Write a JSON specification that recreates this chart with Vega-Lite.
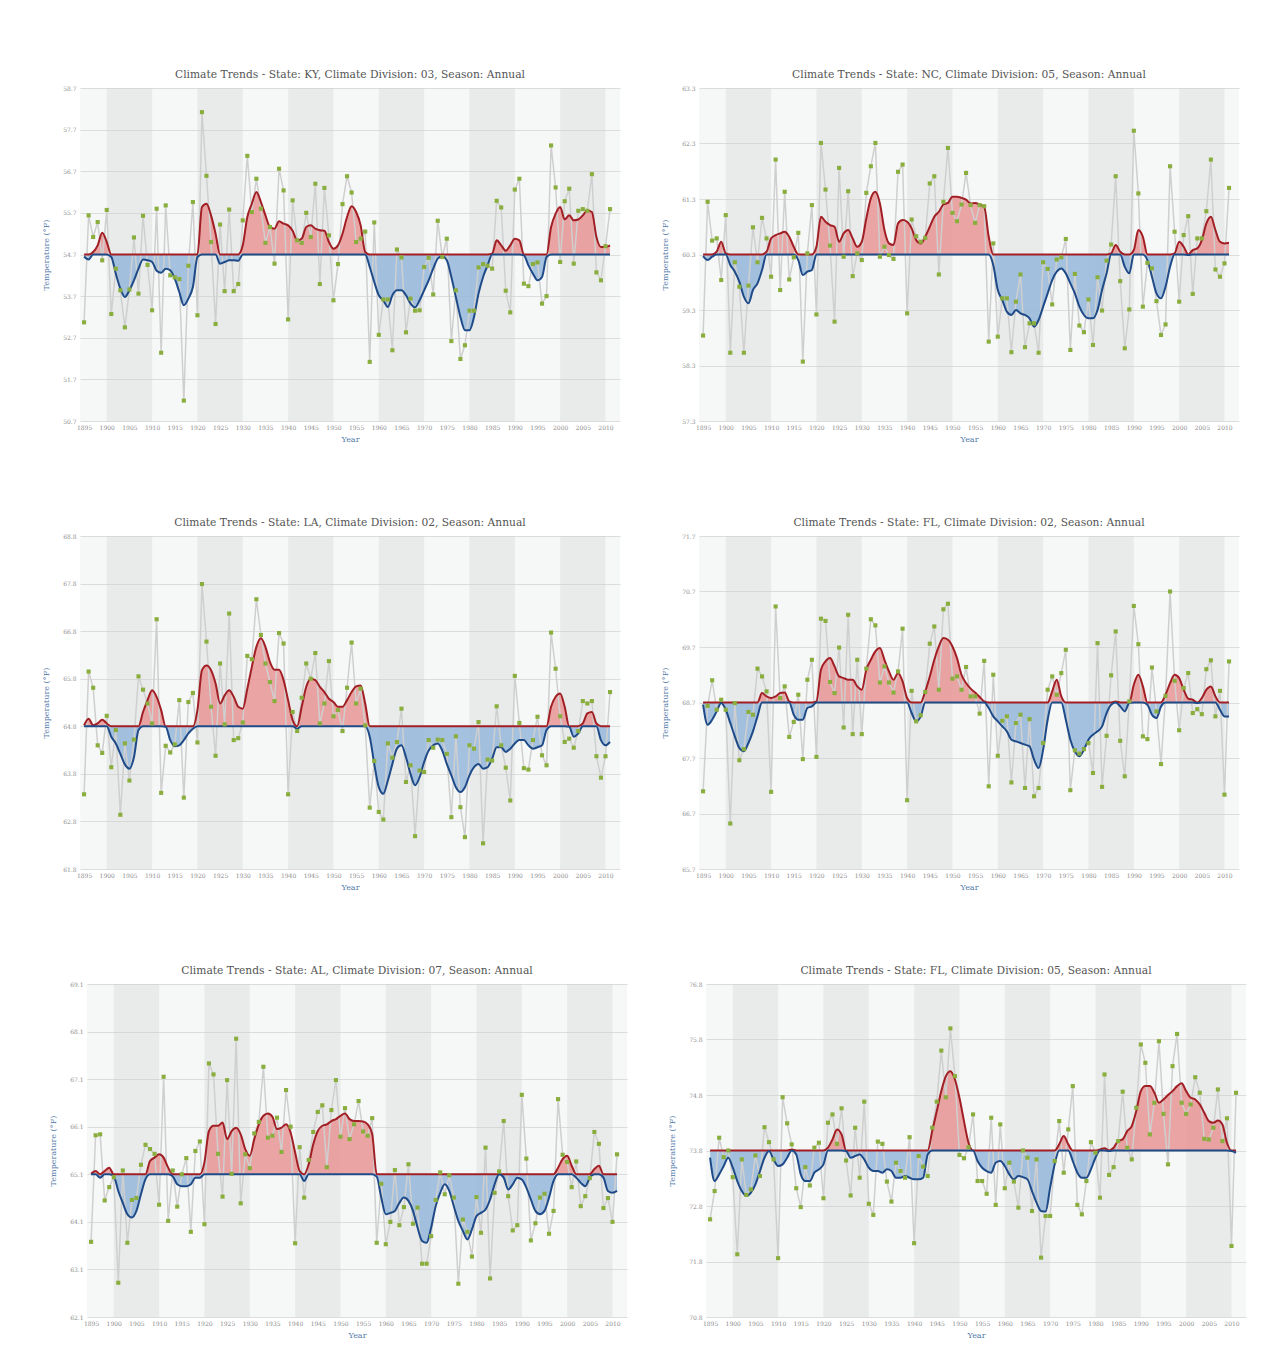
{
  "$schema": "https://vega.github.io/schema/vega-lite/v6.json",
  "background": "white",
  "padding": {"left": 0, "top": 69, "right": 5, "bottom": 5},
  "config": {
    "view": {"stroke": null, "fill": "#f6f7f7"},
    "axis": {"labelFont": "DejaVu Serif", "labelFontSize": 6, "labelColor": "#8c8c8c", "titleFont": "DejaVu Serif", "titleFontSize": 8, "titleFontWeight": "normal", "titleColor": "#5078a8", "domain": false, "ticks": false, "gridColor": "#dcdcdc", "gridWidth": 1},
    "axisX": {"grid": false, "labelPadding": 3, "titlePadding": 5, "labelOverlap": false, "labelFlush": false},
    "axisY": {"labelPadding": 4, "titlePadding": 4, "minExtent": 26, "maxExtent": 26},
    "title": {"font": "DejaVu Serif", "fontSize": 10.7, "fontWeight": "normal", "color": "#555555", "offset": 4, "anchor": "middle"}
  },
  "datasets": {
    "bands": [{"year": 1900, "end": 1910}, {"year": 1920, "end": 1930}, {"year": 1940, "end": 1950}, {"year": 1960, "end": 1970}, {"year": 1980, "end": 1990}, {"year": 2000, "end": 2010}],
    "ky": [
      {"year":1895,"temp":53.07,"smooth":54.65},{"year":1896,"temp":55.64,"smooth":54.58},{"year":1897,"temp":55.12,"smooth":54.76},{"year":1898,"temp":55.48,"smooth":54.92},{"year":1899,"temp":54.56,"smooth":55.22},{"year":1900,"temp":55.77,"smooth":55.0},{"year":1901,"temp":53.27,"smooth":54.64},{"year":1902,"temp":54.36,"smooth":54.24},{"year":1903,"temp":53.84,"smooth":53.88},{"year":1904,"temp":52.95,"smooth":53.68},{"year":1905,"temp":53.86,"smooth":53.84},{"year":1906,"temp":55.11,"smooth":54.08},{"year":1907,"temp":53.76,"smooth":54.36},{"year":1908,"temp":55.63,"smooth":54.58},{"year":1909,"temp":54.45,"smooth":54.56},{"year":1910,"temp":53.36,"smooth":54.52},{"year":1911,"temp":55.8,"smooth":54.31},{"year":1912,"temp":52.34,"smooth":54.26},{"year":1913,"temp":55.88,"smooth":54.36},{"year":1914,"temp":54.2,"smooth":54.32},{"year":1915,"temp":54.15,"smooth":54.12},{"year":1916,"temp":54.11,"smooth":53.8},{"year":1917,"temp":51.19,"smooth":53.48},{"year":1918,"temp":54.43,"smooth":53.64},{"year":1919,"temp":55.96,"smooth":53.92},{"year":1920,"temp":53.24,"smooth":54.64},{"year":1921,"temp":58.12,"smooth":55.84},{"year":1922,"temp":56.59,"smooth":55.92},{"year":1923,"temp":55.0,"smooth":55.64},{"year":1924,"temp":53.03,"smooth":55.2},{"year":1925,"temp":55.42,"smooth":54.48},{"year":1926,"temp":53.82,"smooth":54.52},{"year":1927,"temp":55.78,"smooth":54.56},{"year":1928,"temp":53.82,"smooth":54.56},{"year":1929,"temp":53.99,"smooth":54.55},{"year":1930,"temp":55.52,"smooth":54.92},{"year":1931,"temp":57.07,"smooth":55.6},{"year":1932,"temp":55.72,"smooth":55.92},{"year":1933,"temp":56.52,"smooth":56.2},{"year":1934,"temp":55.8,"smooth":55.96},{"year":1935,"temp":54.98,"smooth":55.64},{"year":1936,"temp":55.36,"smooth":55.36},{"year":1937,"temp":54.48,"smooth":55.32},{"year":1938,"temp":56.76,"smooth":55.5},{"year":1939,"temp":56.24,"smooth":55.44},{"year":1940,"temp":53.14,"smooth":55.4},{"year":1941,"temp":56.0,"smooth":55.27},{"year":1942,"temp":55.04,"smooth":55.04},{"year":1943,"temp":54.98,"smooth":55.08},{"year":1944,"temp":55.7,"smooth":55.36},{"year":1945,"temp":55.12,"smooth":55.4},{"year":1946,"temp":56.4,"smooth":55.32},{"year":1947,"temp":53.99,"smooth":55.28},{"year":1948,"temp":56.3,"smooth":55.27},{"year":1949,"temp":55.16,"smooth":55.0},{"year":1950,"temp":53.6,"smooth":54.84},{"year":1951,"temp":54.47,"smooth":54.92},{"year":1952,"temp":55.91,"smooth":55.2},{"year":1953,"temp":56.58,"smooth":55.6},{"year":1954,"temp":56.19,"smooth":55.86},{"year":1955,"temp":55.0,"smooth":55.72},{"year":1956,"temp":55.08,"smooth":55.4},{"year":1957,"temp":55.25,"smooth":54.76},{"year":1958,"temp":52.12,"smooth":54.4},{"year":1959,"temp":55.47,"smooth":54.04},{"year":1960,"temp":52.77,"smooth":53.72},{"year":1961,"temp":53.62,"smooth":53.6},{"year":1962,"temp":53.62,"smooth":53.44},{"year":1963,"temp":52.4,"smooth":53.72},{"year":1964,"temp":54.82,"smooth":53.84},{"year":1965,"temp":54.63,"smooth":53.84},{"year":1966,"temp":52.83,"smooth":53.72},{"year":1967,"temp":53.64,"smooth":53.52},{"year":1968,"temp":53.35,"smooth":53.43},{"year":1969,"temp":53.36,"smooth":53.6},{"year":1970,"temp":54.4,"smooth":53.84},{"year":1971,"temp":54.62,"smooth":54.08},{"year":1972,"temp":53.74,"smooth":54.36},{"year":1973,"temp":55.51,"smooth":54.6},{"year":1974,"temp":54.64,"smooth":54.66},{"year":1975,"temp":55.08,"smooth":54.56},{"year":1976,"temp":52.62,"smooth":54.16},{"year":1977,"temp":53.84,"smooth":53.68},{"year":1978,"temp":52.19,"smooth":53.2},{"year":1979,"temp":52.52,"smooth":52.88},{"year":1980,"temp":53.35,"smooth":52.88},{"year":1981,"temp":53.35,"smooth":53.2},{"year":1982,"temp":54.39,"smooth":53.76},{"year":1983,"temp":54.47,"smooth":54.16},{"year":1984,"temp":54.43,"smooth":54.44},{"year":1985,"temp":54.36,"smooth":54.72},{"year":1986,"temp":55.99,"smooth":55.04},{"year":1987,"temp":55.83,"smooth":54.92},{"year":1988,"temp":53.83,"smooth":54.79},{"year":1989,"temp":53.31,"smooth":54.92},{"year":1990,"temp":56.26,"smooth":55.08},{"year":1991,"temp":56.52,"smooth":55.04},{"year":1992,"temp":54.0,"smooth":54.68},{"year":1993,"temp":53.94,"smooth":54.44},{"year":1994,"temp":54.47,"smooth":54.24},{"year":1995,"temp":54.51,"smooth":54.08},{"year":1996,"temp":53.52,"smooth":54.16},{"year":1997,"temp":53.7,"smooth":54.64},{"year":1998,"temp":57.32,"smooth":55.36},{"year":1999,"temp":56.31,"smooth":55.68},{"year":2000,"temp":54.52,"smooth":55.84},{"year":2001,"temp":55.98,"smooth":55.54},{"year":2002,"temp":56.28,"smooth":55.64},{"year":2003,"temp":54.48,"smooth":55.52},{"year":2004,"temp":55.75,"smooth":55.54},{"year":2005,"temp":55.79,"smooth":55.64},{"year":2006,"temp":55.75,"smooth":55.76},{"year":2007,"temp":56.63,"smooth":55.72},{"year":2008,"temp":54.27,"smooth":55.12},{"year":2009,"temp":54.08,"smooth":54.88},{"year":2010,"temp":54.9,"smooth":54.88},{"year":2011,"temp":55.79,"smooth":54.92}
    ],
    "nc": [
      {"year":1895,"temp":58.84,"smooth":60.27},{"year":1896,"temp":61.25,"smooth":60.2},{"year":1897,"temp":60.55,"smooth":60.26},{"year":1898,"temp":60.59,"smooth":60.35},{"year":1899,"temp":59.84,"smooth":60.53},{"year":1900,"temp":61.01,"smooth":60.32},{"year":1901,"temp":58.53,"smooth":60.11},{"year":1902,"temp":60.16,"smooth":59.99},{"year":1903,"temp":59.72,"smooth":59.81},{"year":1904,"temp":58.53,"smooth":59.54},{"year":1905,"temp":59.74,"smooth":59.42},{"year":1906,"temp":60.79,"smooth":59.66},{"year":1907,"temp":60.16,"smooth":59.78},{"year":1908,"temp":60.96,"smooth":60.02},{"year":1909,"temp":60.59,"smooth":60.35},{"year":1910,"temp":59.9,"smooth":60.59},{"year":1911,"temp":62.01,"smooth":60.65},{"year":1912,"temp":59.66,"smooth":60.68},{"year":1913,"temp":61.43,"smooth":60.71},{"year":1914,"temp":59.85,"smooth":60.62},{"year":1915,"temp":60.25,"smooth":60.44},{"year":1916,"temp":60.69,"smooth":60.2},{"year":1917,"temp":58.37,"smooth":59.93},{"year":1918,"temp":60.32,"smooth":59.99},{"year":1919,"temp":61.19,"smooth":60.02},{"year":1920,"temp":59.22,"smooth":60.44},{"year":1921,"temp":62.31,"smooth":60.98},{"year":1922,"temp":61.47,"smooth":60.89},{"year":1923,"temp":60.46,"smooth":60.83},{"year":1924,"temp":59.09,"smooth":60.8},{"year":1925,"temp":61.86,"smooth":60.53},{"year":1926,"temp":60.26,"smooth":60.68},{"year":1927,"temp":61.44,"smooth":60.74},{"year":1928,"temp":59.91,"smooth":60.59},{"year":1929,"temp":60.32,"smooth":60.44},{"year":1930,"temp":60.2,"smooth":60.53},{"year":1931,"temp":61.41,"smooth":60.95},{"year":1932,"temp":61.89,"smooth":61.31},{"year":1933,"temp":62.31,"smooth":61.43},{"year":1934,"temp":60.26,"smooth":61.22},{"year":1935,"temp":60.44,"smooth":60.74},{"year":1936,"temp":60.29,"smooth":60.5},{"year":1937,"temp":60.22,"smooth":60.47},{"year":1938,"temp":61.79,"smooth":60.86},{"year":1939,"temp":61.92,"smooth":60.92},{"year":1940,"temp":59.24,"smooth":60.89},{"year":1941,"temp":60.93,"smooth":60.77},{"year":1942,"temp":60.63,"smooth":60.56},{"year":1943,"temp":60.53,"smooth":60.5},{"year":1944,"temp":60.6,"smooth":60.62},{"year":1945,"temp":61.58,"smooth":60.8},{"year":1946,"temp":61.71,"smooth":60.98},{"year":1947,"temp":59.94,"smooth":61.07},{"year":1948,"temp":61.25,"smooth":61.2},{"year":1949,"temp":62.22,"smooth":61.23},{"year":1950,"temp":61.05,"smooth":61.34},{"year":1951,"temp":60.9,"smooth":61.34},{"year":1952,"temp":61.2,"smooth":61.32},{"year":1953,"temp":61.77,"smooth":61.29},{"year":1954,"temp":61.19,"smooth":61.22},{"year":1955,"temp":60.87,"smooth":61.23},{"year":1956,"temp":61.19,"smooth":61.2},{"year":1957,"temp":61.17,"smooth":61.16},{"year":1958,"temp":58.73,"smooth":60.62},{"year":1959,"temp":60.5,"smooth":60.11},{"year":1960,"temp":58.82,"smooth":59.66},{"year":1961,"temp":59.51,"smooth":59.48},{"year":1962,"temp":59.51,"smooth":59.27},{"year":1963,"temp":58.54,"smooth":59.21},{"year":1964,"temp":59.45,"smooth":59.3},{"year":1965,"temp":59.94,"smooth":59.24},{"year":1966,"temp":58.63,"smooth":59.21},{"year":1967,"temp":59.06,"smooth":59.15},{"year":1968,"temp":59.06,"smooth":59.0},{"year":1969,"temp":58.53,"smooth":59.12},{"year":1970,"temp":60.16,"smooth":59.36},{"year":1971,"temp":60.04,"smooth":59.6},{"year":1972,"temp":59.4,"smooth":59.84},{"year":1973,"temp":60.21,"smooth":59.99},{"year":1974,"temp":60.25,"smooth":60.05},{"year":1975,"temp":60.58,"smooth":59.96},{"year":1976,"temp":58.58,"smooth":59.78},{"year":1977,"temp":59.95,"smooth":59.6},{"year":1978,"temp":59.02,"smooth":59.36},{"year":1979,"temp":58.9,"smooth":59.21},{"year":1980,"temp":59.49,"smooth":59.15},{"year":1981,"temp":58.67,"smooth":59.15},{"year":1982,"temp":59.89,"smooth":59.3},{"year":1983,"temp":59.29,"smooth":59.66},{"year":1984,"temp":60.19,"smooth":59.96},{"year":1985,"temp":60.48,"smooth":60.32},{"year":1986,"temp":61.71,"smooth":60.47},{"year":1987,"temp":59.82,"smooth":60.35},{"year":1988,"temp":58.61,"smooth":60.08},{"year":1989,"temp":59.31,"smooth":59.96},{"year":1990,"temp":62.53,"smooth":60.38},{"year":1991,"temp":61.4,"smooth":60.74},{"year":1992,"temp":59.36,"smooth":60.62},{"year":1993,"temp":60.15,"smooth":60.2},{"year":1994,"temp":60.05,"smooth":59.9},{"year":1995,"temp":59.46,"smooth":59.6},{"year":1996,"temp":58.85,"smooth":59.51},{"year":1997,"temp":59.04,"smooth":59.72},{"year":1998,"temp":61.89,"smooth":60.08},{"year":1999,"temp":60.71,"smooth":60.32},{"year":2000,"temp":59.45,"smooth":60.53},{"year":2001,"temp":60.65,"smooth":60.44},{"year":2002,"temp":60.99,"smooth":60.29},{"year":2003,"temp":59.59,"smooth":60.38},{"year":2004,"temp":60.59,"smooth":60.41},{"year":2005,"temp":60.59,"smooth":60.56},{"year":2006,"temp":61.08,"smooth":60.86},{"year":2007,"temp":62.01,"smooth":60.98},{"year":2008,"temp":60.03,"smooth":60.74},{"year":2009,"temp":59.9,"smooth":60.53},{"year":2010,"temp":60.14,"smooth":60.5},{"year":2011,"temp":61.5,"smooth":60.51}
    ],
    "la": [
      {"year":1895,"temp":63.37,"smooth":64.82},{"year":1896,"temp":65.95,"smooth":64.96},{"year":1897,"temp":65.61,"smooth":64.82},{"year":1898,"temp":64.4,"smooth":64.86},{"year":1899,"temp":64.24,"smooth":64.94},{"year":1900,"temp":65.02,"smooth":64.86},{"year":1901,"temp":63.94,"smooth":64.58},{"year":1902,"temp":64.72,"smooth":64.44},{"year":1903,"temp":62.94,"smooth":64.22},{"year":1904,"temp":64.44,"smooth":64.0},{"year":1905,"temp":63.66,"smooth":63.91},{"year":1906,"temp":64.52,"smooth":64.15},{"year":1907,"temp":65.85,"smooth":64.72},{"year":1908,"temp":65.57,"smooth":65.1},{"year":1909,"temp":65.28,"smooth":65.35},{"year":1910,"temp":64.86,"smooth":65.56},{"year":1911,"temp":67.05,"smooth":65.42},{"year":1912,"temp":63.4,"smooth":65.14},{"year":1913,"temp":64.39,"smooth":64.79},{"year":1914,"temp":64.25,"smooth":64.51},{"year":1915,"temp":64.42,"smooth":64.38},{"year":1916,"temp":65.35,"smooth":64.4},{"year":1917,"temp":63.3,"smooth":64.51},{"year":1918,"temp":65.31,"smooth":64.65},{"year":1919,"temp":65.5,"smooth":64.75},{"year":1920,"temp":64.46,"smooth":65.14},{"year":1921,"temp":67.79,"smooth":65.98},{"year":1922,"temp":66.58,"smooth":66.08},{"year":1923,"temp":65.21,"smooth":65.98},{"year":1924,"temp":64.18,"smooth":65.7},{"year":1925,"temp":66.12,"smooth":65.28},{"year":1926,"temp":64.84,"smooth":65.45},{"year":1927,"temp":67.17,"smooth":65.56},{"year":1928,"temp":64.51,"smooth":65.42},{"year":1929,"temp":64.55,"smooth":65.21},{"year":1930,"temp":64.88,"smooth":65.17},{"year":1931,"temp":66.28,"smooth":65.59},{"year":1932,"temp":66.21,"smooth":66.05},{"year":1933,"temp":67.47,"smooth":66.47},{"year":1934,"temp":66.72,"smooth":66.65},{"year":1935,"temp":66.12,"smooth":66.47},{"year":1936,"temp":65.73,"smooth":66.15},{"year":1937,"temp":65.33,"smooth":65.99},{"year":1938,"temp":66.76,"smooth":65.99},{"year":1939,"temp":66.54,"smooth":65.77},{"year":1940,"temp":63.37,"smooth":65.35},{"year":1941,"temp":65.1,"smooth":64.93},{"year":1942,"temp":64.7,"smooth":64.75},{"year":1943,"temp":65.4,"smooth":65.21},{"year":1944,"temp":66.12,"smooth":65.63},{"year":1945,"temp":65.8,"smooth":65.8},{"year":1946,"temp":66.34,"smooth":65.77},{"year":1947,"temp":64.86,"smooth":65.63},{"year":1948,"temp":65.28,"smooth":65.52},{"year":1949,"temp":66.17,"smooth":65.38},{"year":1950,"temp":65.01,"smooth":65.31},{"year":1951,"temp":65.14,"smooth":65.21},{"year":1952,"temp":64.7,"smooth":65.21},{"year":1953,"temp":65.61,"smooth":65.35},{"year":1954,"temp":66.56,"smooth":65.52},{"year":1955,"temp":65.28,"smooth":65.64},{"year":1956,"temp":65.59,"smooth":65.66},{"year":1957,"temp":64.82,"smooth":65.28},{"year":1958,"temp":63.09,"smooth":64.58},{"year":1959,"temp":64.07,"smooth":64.01},{"year":1960,"temp":63.0,"smooth":63.52},{"year":1961,"temp":62.84,"smooth":63.38},{"year":1962,"temp":64.44,"smooth":63.66},{"year":1963,"temp":64.14,"smooth":64.01},{"year":1964,"temp":64.47,"smooth":64.33},{"year":1965,"temp":65.17,"smooth":64.4},{"year":1966,"temp":63.63,"smooth":64.15},{"year":1967,"temp":63.98,"smooth":63.8},{"year":1968,"temp":62.49,"smooth":63.56},{"year":1969,"temp":63.87,"smooth":63.73},{"year":1970,"temp":63.84,"smooth":64.05},{"year":1971,"temp":64.51,"smooth":64.29},{"year":1972,"temp":64.35,"smooth":64.4},{"year":1973,"temp":64.52,"smooth":64.44},{"year":1974,"temp":64.51,"smooth":64.29},{"year":1975,"temp":64.22,"smooth":64.01},{"year":1976,"temp":62.89,"smooth":63.77},{"year":1977,"temp":64.59,"smooth":63.52},{"year":1978,"temp":63.1,"smooth":63.42},{"year":1979,"temp":62.47,"smooth":63.52},{"year":1980,"temp":64.4,"smooth":63.77},{"year":1981,"temp":64.33,"smooth":63.94},{"year":1982,"temp":64.89,"smooth":64.01},{"year":1983,"temp":62.34,"smooth":63.91},{"year":1984,"temp":64.1,"smooth":63.94},{"year":1985,"temp":64.08,"smooth":64.12},{"year":1986,"temp":65.22,"smooth":64.36},{"year":1987,"temp":64.4,"smooth":64.36},{"year":1988,"temp":63.93,"smooth":64.26},{"year":1989,"temp":63.24,"smooth":64.33},{"year":1990,"temp":65.86,"smooth":64.44},{"year":1991,"temp":64.87,"smooth":64.51},{"year":1992,"temp":63.92,"smooth":64.51},{"year":1993,"temp":63.89,"smooth":64.4},{"year":1994,"temp":64.51,"smooth":64.33},{"year":1995,"temp":65.0,"smooth":64.36},{"year":1996,"temp":64.19,"smooth":64.4},{"year":1997,"temp":63.98,"smooth":64.72},{"year":1998,"temp":66.77,"smooth":65.21},{"year":1999,"temp":66.01,"smooth":65.42},{"year":2000,"temp":65.01,"smooth":65.49},{"year":2001,"temp":64.47,"smooth":65.21},{"year":2002,"temp":64.54,"smooth":64.79},{"year":2003,"temp":64.35,"smooth":64.58},{"year":2004,"temp":64.7,"smooth":64.65},{"year":2005,"temp":65.33,"smooth":64.86},{"year":2006,"temp":65.28,"smooth":65.07},{"year":2007,"temp":65.33,"smooth":65.1},{"year":2008,"temp":64.17,"smooth":64.86},{"year":2009,"temp":63.72,"smooth":64.51},{"year":2010,"temp":64.17,"smooth":64.4},{"year":2011,"temp":65.52,"smooth":64.47}
    ],
    "fl2": [
      {"year":1895,"temp":67.1,"smooth":68.66},{"year":1896,"temp":68.64,"smooth":68.3},{"year":1897,"temp":69.1,"smooth":68.39},{"year":1898,"temp":68.57,"smooth":68.54},{"year":1899,"temp":68.75,"smooth":68.69},{"year":1900,"temp":68.57,"smooth":68.57},{"year":1901,"temp":66.52,"smooth":68.33},{"year":1902,"temp":68.69,"smooth":68.09},{"year":1903,"temp":67.66,"smooth":67.88},{"year":1904,"temp":67.86,"smooth":67.82},{"year":1905,"temp":68.53,"smooth":67.97},{"year":1906,"temp":68.48,"smooth":68.18},{"year":1907,"temp":69.31,"smooth":68.45},{"year":1908,"temp":69.17,"smooth":68.87},{"year":1909,"temp":68.9,"smooth":68.81},{"year":1910,"temp":67.09,"smooth":68.78},{"year":1911,"temp":70.43,"smooth":68.81},{"year":1912,"temp":68.78,"smooth":68.87},{"year":1913,"temp":68.99,"smooth":68.88},{"year":1914,"temp":68.08,"smooth":68.72},{"year":1915,"temp":68.35,"smooth":68.48},{"year":1916,"temp":68.84,"smooth":68.39},{"year":1917,"temp":67.68,"smooth":68.39},{"year":1918,"temp":69.11,"smooth":68.6},{"year":1919,"temp":69.47,"smooth":68.63},{"year":1920,"temp":67.72,"smooth":68.72},{"year":1921,"temp":70.21,"smooth":69.29},{"year":1922,"temp":70.17,"smooth":69.44},{"year":1923,"temp":69.07,"smooth":69.5},{"year":1924,"temp":68.87,"smooth":69.35},{"year":1925,"temp":69.69,"smooth":69.17},{"year":1926,"temp":68.25,"smooth":69.14},{"year":1927,"temp":70.28,"smooth":69.11},{"year":1928,"temp":68.13,"smooth":69.11},{"year":1929,"temp":69.47,"smooth":68.99},{"year":1930,"temp":68.13,"smooth":68.93},{"year":1931,"temp":69.31,"smooth":69.29},{"year":1932,"temp":70.2,"smooth":69.47},{"year":1933,"temp":70.09,"smooth":69.62},{"year":1934,"temp":69.06,"smooth":69.68},{"year":1935,"temp":69.35,"smooth":69.47},{"year":1936,"temp":69.06,"smooth":69.26},{"year":1937,"temp":68.88,"smooth":69.11},{"year":1938,"temp":69.26,"smooth":69.23},{"year":1939,"temp":70.03,"smooth":69.08},{"year":1940,"temp":66.94,"smooth":68.78},{"year":1941,"temp":68.91,"smooth":68.51},{"year":1942,"temp":68.36,"smooth":68.36},{"year":1943,"temp":68.47,"smooth":68.45},{"year":1944,"temp":68.89,"smooth":68.9},{"year":1945,"temp":69.76,"smooth":69.17},{"year":1946,"temp":70.07,"smooth":69.47},{"year":1947,"temp":68.93,"smooth":69.71},{"year":1948,"temp":70.38,"smooth":69.86},{"year":1949,"temp":70.48,"smooth":69.83},{"year":1950,"temp":69.13,"smooth":69.71},{"year":1951,"temp":69.17,"smooth":69.5},{"year":1952,"temp":68.93,"smooth":69.2},{"year":1953,"temp":69.34,"smooth":69.05},{"year":1954,"temp":68.81,"smooth":68.95},{"year":1955,"temp":68.81,"smooth":68.88},{"year":1956,"temp":68.5,"smooth":68.8},{"year":1957,"temp":69.45,"smooth":68.72},{"year":1958,"temp":67.19,"smooth":68.6},{"year":1959,"temp":69.2,"smooth":68.45},{"year":1960,"temp":67.74,"smooth":68.36},{"year":1961,"temp":68.37,"smooth":68.27},{"year":1962,"temp":68.45,"smooth":68.18},{"year":1963,"temp":67.26,"smooth":68.03},{"year":1964,"temp":68.33,"smooth":68.0},{"year":1965,"temp":68.48,"smooth":67.97},{"year":1966,"temp":67.16,"smooth":67.94},{"year":1967,"temp":68.4,"smooth":67.91},{"year":1968,"temp":67.01,"smooth":67.67},{"year":1969,"temp":67.16,"smooth":67.52},{"year":1970,"temp":67.97,"smooth":67.85},{"year":1971,"temp":68.93,"smooth":68.39},{"year":1972,"temp":69.17,"smooth":68.9},{"year":1973,"temp":68.84,"smooth":69.11},{"year":1974,"temp":69.23,"smooth":68.81},{"year":1975,"temp":69.65,"smooth":68.39},{"year":1976,"temp":67.12,"smooth":68.03},{"year":1977,"temp":67.84,"smooth":67.82},{"year":1978,"temp":67.78,"smooth":67.73},{"year":1979,"temp":67.86,"smooth":67.85},{"year":1980,"temp":67.97,"smooth":68.03},{"year":1981,"temp":67.43,"smooth":68.12},{"year":1982,"temp":69.77,"smooth":68.18},{"year":1983,"temp":67.18,"smooth":68.27},{"year":1984,"temp":68.1,"smooth":68.51},{"year":1985,"temp":69.19,"smooth":68.66},{"year":1986,"temp":69.98,"smooth":68.72},{"year":1987,"temp":68.01,"smooth":68.63},{"year":1988,"temp":67.37,"smooth":68.54},{"year":1989,"temp":68.72,"smooth":68.69},{"year":1990,"temp":70.44,"smooth":69.02},{"year":1991,"temp":69.75,"smooth":69.2},{"year":1992,"temp":68.09,"smooth":68.99},{"year":1993,"temp":68.04,"smooth":68.66},{"year":1994,"temp":69.33,"smooth":68.48},{"year":1995,"temp":68.54,"smooth":68.42},{"year":1996,"temp":67.59,"smooth":68.63},{"year":1997,"temp":68.82,"smooth":68.84},{"year":1998,"temp":70.7,"smooth":69.05},{"year":1999,"temp":69.09,"smooth":69.2},{"year":2000,"temp":68.2,"smooth":69.14},{"year":2001,"temp":68.96,"smooth":68.93},{"year":2002,"temp":69.23,"smooth":68.77},{"year":2003,"temp":68.51,"smooth":68.75},{"year":2004,"temp":68.58,"smooth":68.69},{"year":2005,"temp":68.49,"smooth":68.78},{"year":2006,"temp":69.3,"smooth":68.93},{"year":2007,"temp":69.46,"smooth":68.99},{"year":2008,"temp":68.45,"smooth":68.81},{"year":2009,"temp":68.91,"smooth":68.57},{"year":2010,"temp":67.04,"smooth":68.45},{"year":2011,"temp":69.44,"smooth":68.45}
    ],
    "al": [
      {"year":1895,"temp":63.68,"smooth":65.11},{"year":1896,"temp":65.92,"smooth":65.17},{"year":1897,"temp":65.94,"smooth":65.03},{"year":1898,"temp":64.55,"smooth":65.17},{"year":1899,"temp":64.83,"smooth":65.24},{"year":1900,"temp":65.04,"smooth":65.06},{"year":1901,"temp":62.82,"smooth":64.75},{"year":1902,"temp":65.18,"smooth":64.5},{"year":1903,"temp":63.66,"smooth":64.26},{"year":1904,"temp":64.56,"smooth":64.19},{"year":1905,"temp":64.6,"smooth":64.33},{"year":1906,"temp":65.3,"smooth":64.68},{"year":1907,"temp":65.72,"smooth":65.0},{"year":1908,"temp":65.63,"smooth":65.38},{"year":1909,"temp":65.53,"smooth":65.45},{"year":1910,"temp":64.46,"smooth":65.52},{"year":1911,"temp":67.15,"smooth":65.45},{"year":1912,"temp":64.12,"smooth":65.24},{"year":1913,"temp":65.18,"smooth":65.06},{"year":1914,"temp":64.42,"smooth":64.89},{"year":1915,"temp":65.1,"smooth":64.85},{"year":1916,"temp":65.44,"smooth":64.85},{"year":1917,"temp":63.89,"smooth":64.89},{"year":1918,"temp":65.59,"smooth":65.03},{"year":1919,"temp":65.79,"smooth":65.03},{"year":1920,"temp":64.05,"smooth":65.35},{"year":1921,"temp":67.43,"smooth":66.01},{"year":1922,"temp":67.2,"smooth":66.12},{"year":1923,"temp":65.53,"smooth":66.12},{"year":1924,"temp":64.63,"smooth":66.19},{"year":1925,"temp":67.08,"smooth":65.84},{"year":1926,"temp":65.11,"smooth":66.01},{"year":1927,"temp":67.95,"smooth":66.08},{"year":1928,"temp":64.49,"smooth":65.94},{"year":1929,"temp":65.52,"smooth":65.63},{"year":1930,"temp":65.23,"smooth":65.49},{"year":1931,"temp":65.96,"smooth":65.84},{"year":1932,"temp":66.2,"smooth":66.15},{"year":1933,"temp":67.36,"smooth":66.33},{"year":1934,"temp":65.87,"smooth":66.38},{"year":1935,"temp":65.91,"smooth":66.31},{"year":1936,"temp":66.29,"smooth":66.05},{"year":1937,"temp":65.57,"smooth":66.08},{"year":1938,"temp":66.87,"smooth":66.15},{"year":1939,"temp":66.1,"smooth":65.98},{"year":1940,"temp":63.65,"smooth":65.56},{"year":1941,"temp":65.67,"smooth":65.17},{"year":1942,"temp":64.61,"smooth":64.96},{"year":1943,"temp":65.4,"smooth":65.31},{"year":1944,"temp":65.99,"smooth":65.73},{"year":1945,"temp":66.41,"smooth":66.01},{"year":1946,"temp":66.55,"smooth":66.12},{"year":1947,"temp":65.25,"smooth":66.15},{"year":1948,"temp":66.45,"smooth":66.22},{"year":1949,"temp":67.08,"smooth":66.26},{"year":1950,"temp":65.89,"smooth":66.33},{"year":1951,"temp":66.49,"smooth":66.38},{"year":1952,"temp":65.84,"smooth":66.26},{"year":1953,"temp":66.15,"smooth":66.22},{"year":1954,"temp":66.64,"smooth":66.22},{"year":1955,"temp":66.0,"smooth":66.21},{"year":1956,"temp":65.91,"smooth":66.15},{"year":1957,"temp":66.28,"smooth":65.95},{"year":1958,"temp":63.66,"smooth":65.05},{"year":1959,"temp":64.9,"smooth":64.61},{"year":1960,"temp":63.63,"smooth":64.26},{"year":1961,"temp":64.1,"smooth":64.29},{"year":1962,"temp":65.19,"smooth":64.33},{"year":1963,"temp":64.03,"smooth":64.5},{"year":1964,"temp":64.41,"smooth":64.61},{"year":1965,"temp":65.31,"smooth":64.54},{"year":1966,"temp":64.06,"smooth":64.33},{"year":1967,"temp":64.4,"smooth":63.98},{"year":1968,"temp":63.22,"smooth":63.7},{"year":1969,"temp":63.22,"smooth":63.66},{"year":1970,"temp":63.8,"smooth":63.98},{"year":1971,"temp":64.56,"smooth":64.43},{"year":1972,"temp":65.14,"smooth":64.71},{"year":1973,"temp":64.68,"smooth":64.89},{"year":1974,"temp":65.08,"smooth":64.75},{"year":1975,"temp":64.61,"smooth":64.43},{"year":1976,"temp":62.8,"smooth":64.12},{"year":1977,"temp":64.15,"smooth":63.91},{"year":1978,"temp":63.89,"smooth":63.73},{"year":1979,"temp":63.37,"smooth":63.94},{"year":1980,"temp":64.62,"smooth":64.22},{"year":1981,"temp":63.87,"smooth":64.29},{"year":1982,"temp":65.66,"smooth":64.36},{"year":1983,"temp":62.91,"smooth":64.57},{"year":1984,"temp":64.71,"smooth":64.89},{"year":1985,"temp":65.16,"smooth":65.1},{"year":1986,"temp":66.22,"smooth":65.03},{"year":1987,"temp":64.64,"smooth":64.78},{"year":1988,"temp":63.92,"smooth":64.89},{"year":1989,"temp":64.03,"smooth":65.03},{"year":1990,"temp":66.77,"smooth":64.99},{"year":1991,"temp":65.43,"smooth":64.82},{"year":1992,"temp":63.71,"smooth":64.57},{"year":1993,"temp":64.07,"smooth":64.33},{"year":1994,"temp":64.61,"smooth":64.26},{"year":1995,"temp":64.69,"smooth":64.33},{"year":1996,"temp":63.85,"smooth":64.61},{"year":1997,"temp":64.33,"smooth":64.96},{"year":1998,"temp":66.68,"smooth":65.24},{"year":1999,"temp":65.51,"smooth":65.42},{"year":2000,"temp":65.36,"smooth":65.49},{"year":2001,"temp":64.83,"smooth":65.28},{"year":2002,"temp":65.37,"smooth":65.03},{"year":2003,"temp":64.43,"smooth":64.92},{"year":2004,"temp":64.64,"smooth":64.85},{"year":2005,"temp":65.02,"smooth":65.03},{"year":2006,"temp":65.99,"smooth":65.21},{"year":2007,"temp":65.74,"smooth":65.28},{"year":2008,"temp":64.39,"smooth":65.03},{"year":2009,"temp":64.6,"smooth":64.75},{"year":2010,"temp":64.1,"smooth":64.71},{"year":2011,"temp":65.52,"smooth":64.75}
    ],
    "fl5": [
      {"year":1895,"temp":72.56,"smooth":73.67},{"year":1896,"temp":73.07,"smooth":73.25},{"year":1897,"temp":74.03,"smooth":73.37},{"year":1898,"temp":73.68,"smooth":73.52},{"year":1899,"temp":73.8,"smooth":73.67},{"year":1900,"temp":73.32,"smooth":73.49},{"year":1901,"temp":71.93,"smooth":73.25},{"year":1902,"temp":73.64,"smooth":73.07},{"year":1903,"temp":73.0,"smooth":72.98},{"year":1904,"temp":73.1,"smooth":73.04},{"year":1905,"temp":73.71,"smooth":73.19},{"year":1906,"temp":73.34,"smooth":73.43},{"year":1907,"temp":74.22,"smooth":73.67},{"year":1908,"temp":73.95,"smooth":73.79},{"year":1909,"temp":73.64,"smooth":73.64},{"year":1910,"temp":71.86,"smooth":73.52},{"year":1911,"temp":74.76,"smooth":73.55},{"year":1912,"temp":74.29,"smooth":73.67},{"year":1913,"temp":73.91,"smooth":73.82},{"year":1914,"temp":73.12,"smooth":73.73},{"year":1915,"temp":72.78,"smooth":73.37},{"year":1916,"temp":73.5,"smooth":73.25},{"year":1917,"temp":73.17,"smooth":73.25},{"year":1918,"temp":73.85,"smooth":73.4},{"year":1919,"temp":73.94,"smooth":73.46},{"year":1920,"temp":72.94,"smooth":73.55},{"year":1921,"temp":74.3,"smooth":73.85},{"year":1922,"temp":74.45,"smooth":74.0},{"year":1923,"temp":73.92,"smooth":74.18},{"year":1924,"temp":74.56,"smooth":74.09},{"year":1925,"temp":73.62,"smooth":73.79},{"year":1926,"temp":72.99,"smooth":73.67},{"year":1927,"temp":74.21,"smooth":73.7},{"year":1928,"temp":73.31,"smooth":73.73},{"year":1929,"temp":74.68,"smooth":73.64},{"year":1930,"temp":72.84,"smooth":73.49},{"year":1931,"temp":72.64,"smooth":73.43},{"year":1932,"temp":73.96,"smooth":73.43},{"year":1933,"temp":73.92,"smooth":73.4},{"year":1934,"temp":73.24,"smooth":73.46},{"year":1935,"temp":72.88,"smooth":73.43},{"year":1936,"temp":73.58,"smooth":73.31},{"year":1937,"temp":73.43,"smooth":73.31},{"year":1938,"temp":73.31,"smooth":73.34},{"year":1939,"temp":74.04,"smooth":73.31},{"year":1940,"temp":72.13,"smooth":73.28},{"year":1941,"temp":73.7,"smooth":73.28},{"year":1942,"temp":73.51,"smooth":73.31},{"year":1943,"temp":73.34,"smooth":73.73},{"year":1944,"temp":74.21,"smooth":74.15},{"year":1945,"temp":74.68,"smooth":74.51},{"year":1946,"temp":75.6,"smooth":74.87},{"year":1947,"temp":74.76,"smooth":75.14},{"year":1948,"temp":76.0,"smooth":75.23},{"year":1949,"temp":75.14,"smooth":75.08},{"year":1950,"temp":73.72,"smooth":74.75},{"year":1951,"temp":73.66,"smooth":74.33},{"year":1952,"temp":73.86,"smooth":73.94},{"year":1953,"temp":74.45,"smooth":73.8},{"year":1954,"temp":73.25,"smooth":73.61},{"year":1955,"temp":73.25,"smooth":73.49},{"year":1956,"temp":73.02,"smooth":73.43},{"year":1957,"temp":74.39,"smooth":73.4},{"year":1958,"temp":72.82,"smooth":73.58},{"year":1959,"temp":74.27,"smooth":73.61},{"year":1960,"temp":73.12,"smooth":73.52},{"year":1961,"temp":73.58,"smooth":73.37},{"year":1962,"temp":73.24,"smooth":73.28},{"year":1963,"temp":72.77,"smooth":73.34},{"year":1964,"temp":73.8,"smooth":73.32},{"year":1965,"temp":73.67,"smooth":73.28},{"year":1966,"temp":72.71,"smooth":73.07},{"year":1967,"temp":73.64,"smooth":72.86},{"year":1968,"temp":71.87,"smooth":72.71},{"year":1969,"temp":72.62,"smooth":72.7},{"year":1970,"temp":72.62,"smooth":73.13},{"year":1971,"temp":73.61,"smooth":73.55},{"year":1972,"temp":74.33,"smooth":73.91},{"year":1973,"temp":73.4,"smooth":74.06},{"year":1974,"temp":74.18,"smooth":73.91},{"year":1975,"temp":74.96,"smooth":73.61},{"year":1976,"temp":72.82,"smooth":73.4},{"year":1977,"temp":72.65,"smooth":73.31},{"year":1978,"temp":73.25,"smooth":73.31},{"year":1979,"temp":73.95,"smooth":73.46},{"year":1980,"temp":73.76,"smooth":73.67},{"year":1981,"temp":72.95,"smooth":73.82},{"year":1982,"temp":75.17,"smooth":73.84},{"year":1983,"temp":73.36,"smooth":73.79},{"year":1984,"temp":73.5,"smooth":73.85},{"year":1985,"temp":73.97,"smooth":73.97},{"year":1986,"temp":74.86,"smooth":74.0},{"year":1987,"temp":73.85,"smooth":74.15},{"year":1988,"temp":73.64,"smooth":74.24},{"year":1989,"temp":74.57,"smooth":74.51},{"year":1990,"temp":75.71,"smooth":74.87},{"year":1991,"temp":75.38,"smooth":74.96},{"year":1992,"temp":74.09,"smooth":74.96},{"year":1993,"temp":74.66,"smooth":74.84},{"year":1994,"temp":75.77,"smooth":74.66},{"year":1995,"temp":74.46,"smooth":74.72},{"year":1996,"temp":73.55,"smooth":74.8},{"year":1997,"temp":75.32,"smooth":74.87},{"year":1998,"temp":75.9,"smooth":74.96},{"year":1999,"temp":74.66,"smooth":75.01},{"year":2000,"temp":74.46,"smooth":74.87},{"year":2001,"temp":74.63,"smooth":74.75},{"year":2002,"temp":75.12,"smooth":74.72},{"year":2003,"temp":74.84,"smooth":74.63},{"year":2004,"temp":74.01,"smooth":74.48},{"year":2005,"temp":74.0,"smooth":74.33},{"year":2006,"temp":74.21,"smooth":74.3},{"year":2007,"temp":74.9,"smooth":74.34},{"year":2008,"temp":73.97,"smooth":74.27},{"year":2009,"temp":74.38,"smooth":73.94},{"year":2010,"temp":72.08,"smooth":73.79},{"year":2011,"temp":74.84,"smooth":73.76}
    ]
  },
  "spacing": 74,
  "vconcat": [
    {
      "spacing": 41,
      "hconcat": [
        {"width": 1, "height": 10, "view": {"fill": null}, "data": {"values": []}, "mark": "point", "encoding": {}},
        {
          "width": 540, "height": 333,
          "title": {"text": "Climate Trends - State: KY, Climate Division: 03, Season: Annual"},
          "data": {"name": "ky"},
          "encoding": {"x": {"field": "year", "type": "quantitative", "scale": {"domain": [1894.1, 2013.2], "nice": false, "zero": false}, "axis": {"title": "Year", "format": "d", "values": [1895,1900,1905,1910,1915,1920,1925,1930,1935,1940,1945,1950,1955,1960,1965,1970,1975,1980,1985,1990,1995,2000,2005,2010]}}},
          "layer": [
            {"data": {"name": "bands"}, "mark": {"type": "rect", "color": "#c9d1d1", "opacity": 0.3, "clip": true}, "encoding": {"x2": {"field": "end"}}},
            {"mark": {"type": "area", "color": "#e89595", "opacity": 0.85, "interpolate": "monotone"}, "encoding": {"y": {"field": "smooth", "type": "quantitative", "scale": {"domain": [54.7, 58.7], "range": [166.5, 0], "clamp": true, "nice": false, "zero": false}, "axis": null}, "y2": {"datum": 54.7}}},
            {"mark": {"type": "area", "color": "#95b8dc", "opacity": 0.85, "interpolate": "monotone"}, "encoding": {"y": {"field": "smooth", "type": "quantitative", "scale": {"domain": [50.7, 54.7], "range": [333, 166.5], "clamp": true, "nice": false, "zero": false}, "axis": null}, "y2": {"datum": 54.7}}},
            {"mark": {"type": "line", "color": "#cfcfcf", "strokeWidth": 1.5}, "encoding": {"y": {"field": "temp", "type": "quantitative", "scale": {"domain": [50.7, 58.7], "nice": false, "zero": false}, "axis": {"title": "Temperature (°F)", "format": ".1f", "grid": true, "values": [50.7,51.7,52.7,53.7,54.7,55.7,56.7,57.7,58.7]}}}},
            {"mark": {"type": "line", "color": "#a11f24", "strokeWidth": 2, "interpolate": "monotone"}, "encoding": {"y": {"field": "smooth", "type": "quantitative", "scale": {"domain": [54.7, 58.7], "range": [166.5, 0], "clamp": true, "nice": false, "zero": false}, "axis": null}}},
            {"mark": {"type": "line", "color": "#1f4a88", "strokeWidth": 2, "interpolate": "monotone"}, "encoding": {"y": {"field": "smooth", "type": "quantitative", "scale": {"domain": [50.7, 54.7], "range": [333, 166.5], "clamp": true, "nice": false, "zero": false}, "axis": null}}},
            {"mark": {"type": "point", "shape": "square", "filled": true, "size": 17, "color": "#8aae3e", "opacity": 1}, "encoding": {"y": {"field": "temp", "type": "quantitative", "scale": {"domain": [50.7, 58.7], "nice": false, "zero": false}, "axis": null}}}
          ],
          "resolve": {"scale": {"y": "independent"}}
        },
        {
          "width": 540, "height": 333,
          "title": {"text": "Climate Trends - State: NC, Climate Division: 05, Season: Annual"},
          "data": {"name": "nc"},
          "encoding": {"x": {"field": "year", "type": "quantitative", "scale": {"domain": [1894.1, 2013.2], "nice": false, "zero": false}, "axis": {"title": "Year", "format": "d", "values": [1895,1900,1905,1910,1915,1920,1925,1930,1935,1940,1945,1950,1955,1960,1965,1970,1975,1980,1985,1990,1995,2000,2005,2010]}}},
          "layer": [
            {"data": {"name": "bands"}, "mark": {"type": "rect", "color": "#c9d1d1", "opacity": 0.3, "clip": true}, "encoding": {"x2": {"field": "end"}}},
            {"mark": {"type": "area", "color": "#e89595", "opacity": 0.85, "interpolate": "monotone"}, "encoding": {"y": {"field": "smooth", "type": "quantitative", "scale": {"domain": [60.3, 63.3], "range": [166.5, 0], "clamp": true, "nice": false, "zero": false}, "axis": null}, "y2": {"datum": 60.3}}},
            {"mark": {"type": "area", "color": "#95b8dc", "opacity": 0.85, "interpolate": "monotone"}, "encoding": {"y": {"field": "smooth", "type": "quantitative", "scale": {"domain": [57.3, 60.3], "range": [333, 166.5], "clamp": true, "nice": false, "zero": false}, "axis": null}, "y2": {"datum": 60.3}}},
            {"mark": {"type": "line", "color": "#cfcfcf", "strokeWidth": 1.5}, "encoding": {"y": {"field": "temp", "type": "quantitative", "scale": {"domain": [57.3, 63.3], "nice": false, "zero": false}, "axis": {"title": "Temperature (°F)", "format": ".1f", "grid": true, "values": [57.3,58.3,59.3,60.3,61.3,62.3,63.3]}}}},
            {"mark": {"type": "line", "color": "#a11f24", "strokeWidth": 2, "interpolate": "monotone"}, "encoding": {"y": {"field": "smooth", "type": "quantitative", "scale": {"domain": [60.3, 63.3], "range": [166.5, 0], "clamp": true, "nice": false, "zero": false}, "axis": null}}},
            {"mark": {"type": "line", "color": "#1f4a88", "strokeWidth": 2, "interpolate": "monotone"}, "encoding": {"y": {"field": "smooth", "type": "quantitative", "scale": {"domain": [57.3, 60.3], "range": [333, 166.5], "clamp": true, "nice": false, "zero": false}, "axis": null}}},
            {"mark": {"type": "point", "shape": "square", "filled": true, "size": 17, "color": "#8aae3e", "opacity": 1}, "encoding": {"y": {"field": "temp", "type": "quantitative", "scale": {"domain": [57.3, 63.3], "nice": false, "zero": false}, "axis": null}}}
          ],
          "resolve": {"scale": {"y": "independent"}}
        }
      ]
    },
    {
      "spacing": 41,
      "hconcat": [
        {"width": 1, "height": 10, "view": {"fill": null}, "data": {"values": []}, "mark": "point", "encoding": {}},
        {
          "width": 540, "height": 333,
          "title": {"text": "Climate Trends - State: LA, Climate Division: 02, Season: Annual"},
          "data": {"name": "la"},
          "encoding": {"x": {"field": "year", "type": "quantitative", "scale": {"domain": [1894.1, 2013.2], "nice": false, "zero": false}, "axis": {"title": "Year", "format": "d", "values": [1895,1900,1905,1910,1915,1920,1925,1930,1935,1940,1945,1950,1955,1960,1965,1970,1975,1980,1985,1990,1995,2000,2005,2010]}}},
          "layer": [
            {"data": {"name": "bands"}, "mark": {"type": "rect", "color": "#c9d1d1", "opacity": 0.3, "clip": true}, "encoding": {"x2": {"field": "end"}}},
            {"mark": {"type": "area", "color": "#e89595", "opacity": 0.85, "interpolate": "monotone"}, "encoding": {"y": {"field": "smooth", "type": "quantitative", "scale": {"domain": [64.8, 68.8], "range": [190.3, 0], "clamp": true, "nice": false, "zero": false}, "axis": null}, "y2": {"datum": 64.8}}},
            {"mark": {"type": "area", "color": "#95b8dc", "opacity": 0.85, "interpolate": "monotone"}, "encoding": {"y": {"field": "smooth", "type": "quantitative", "scale": {"domain": [61.8, 64.8], "range": [333, 190.3], "clamp": true, "nice": false, "zero": false}, "axis": null}, "y2": {"datum": 64.8}}},
            {"mark": {"type": "line", "color": "#cfcfcf", "strokeWidth": 1.5}, "encoding": {"y": {"field": "temp", "type": "quantitative", "scale": {"domain": [61.8, 68.8], "nice": false, "zero": false}, "axis": {"title": "Temperature (°F)", "format": ".1f", "grid": true, "values": [61.8,62.8,63.8,64.8,65.8,66.8,67.8,68.8]}}}},
            {"mark": {"type": "line", "color": "#a11f24", "strokeWidth": 2, "interpolate": "monotone"}, "encoding": {"y": {"field": "smooth", "type": "quantitative", "scale": {"domain": [64.8, 68.8], "range": [190.3, 0], "clamp": true, "nice": false, "zero": false}, "axis": null}}},
            {"mark": {"type": "line", "color": "#1f4a88", "strokeWidth": 2, "interpolate": "monotone"}, "encoding": {"y": {"field": "smooth", "type": "quantitative", "scale": {"domain": [61.8, 64.8], "range": [333, 190.3], "clamp": true, "nice": false, "zero": false}, "axis": null}}},
            {"mark": {"type": "point", "shape": "square", "filled": true, "size": 17, "color": "#8aae3e", "opacity": 1}, "encoding": {"y": {"field": "temp", "type": "quantitative", "scale": {"domain": [61.8, 68.8], "nice": false, "zero": false}, "axis": null}}}
          ],
          "resolve": {"scale": {"y": "independent"}}
        },
        {
          "width": 540, "height": 333,
          "title": {"text": "Climate Trends - State: FL, Climate Division: 02, Season: Annual"},
          "data": {"name": "fl2"},
          "encoding": {"x": {"field": "year", "type": "quantitative", "scale": {"domain": [1894.1, 2013.2], "nice": false, "zero": false}, "axis": {"title": "Year", "format": "d", "values": [1895,1900,1905,1910,1915,1920,1925,1930,1935,1940,1945,1950,1955,1960,1965,1970,1975,1980,1985,1990,1995,2000,2005,2010]}}},
          "layer": [
            {"data": {"name": "bands"}, "mark": {"type": "rect", "color": "#c9d1d1", "opacity": 0.3, "clip": true}, "encoding": {"x2": {"field": "end"}}},
            {"mark": {"type": "area", "color": "#e89595", "opacity": 0.85, "interpolate": "monotone"}, "encoding": {"y": {"field": "smooth", "type": "quantitative", "scale": {"domain": [68.7, 71.7], "range": [166.5, 0], "clamp": true, "nice": false, "zero": false}, "axis": null}, "y2": {"datum": 68.7}}},
            {"mark": {"type": "area", "color": "#95b8dc", "opacity": 0.85, "interpolate": "monotone"}, "encoding": {"y": {"field": "smooth", "type": "quantitative", "scale": {"domain": [65.7, 68.7], "range": [333, 166.5], "clamp": true, "nice": false, "zero": false}, "axis": null}, "y2": {"datum": 68.7}}},
            {"mark": {"type": "line", "color": "#cfcfcf", "strokeWidth": 1.5}, "encoding": {"y": {"field": "temp", "type": "quantitative", "scale": {"domain": [65.7, 71.7], "nice": false, "zero": false}, "axis": {"title": "Temperature (°F)", "format": ".1f", "grid": true, "values": [65.7,66.7,67.7,68.7,69.7,70.7,71.7]}}}},
            {"mark": {"type": "line", "color": "#a11f24", "strokeWidth": 2, "interpolate": "monotone"}, "encoding": {"y": {"field": "smooth", "type": "quantitative", "scale": {"domain": [68.7, 71.7], "range": [166.5, 0], "clamp": true, "nice": false, "zero": false}, "axis": null}}},
            {"mark": {"type": "line", "color": "#1f4a88", "strokeWidth": 2, "interpolate": "monotone"}, "encoding": {"y": {"field": "smooth", "type": "quantitative", "scale": {"domain": [65.7, 68.7], "range": [333, 166.5], "clamp": true, "nice": false, "zero": false}, "axis": null}}},
            {"mark": {"type": "point", "shape": "square", "filled": true, "size": 17, "color": "#8aae3e", "opacity": 1}, "encoding": {"y": {"field": "temp", "type": "quantitative", "scale": {"domain": [65.7, 71.7], "nice": false, "zero": false}, "axis": null}}}
          ],
          "resolve": {"scale": {"y": "independent"}}
        }
      ]
    },
    {
      "spacing": 41,
      "hconcat": [
        {"width": 8, "height": 10, "view": {"fill": null}, "data": {"values": []}, "mark": "point", "encoding": {}},
        {
          "width": 540, "height": 333,
          "title": {"text": "Climate Trends - State: AL, Climate Division: 07, Season: Annual"},
          "data": {"name": "al"},
          "encoding": {"x": {"field": "year", "type": "quantitative", "scale": {"domain": [1894.1, 2013.2], "nice": false, "zero": false}, "axis": {"title": "Year", "format": "d", "values": [1895,1900,1905,1910,1915,1920,1925,1930,1935,1940,1945,1950,1955,1960,1965,1970,1975,1980,1985,1990,1995,2000,2005,2010]}}},
          "layer": [
            {"data": {"name": "bands"}, "mark": {"type": "rect", "color": "#c9d1d1", "opacity": 0.3, "clip": true}, "encoding": {"x2": {"field": "end"}}},
            {"mark": {"type": "area", "color": "#e89595", "opacity": 0.85, "interpolate": "monotone"}, "encoding": {"y": {"field": "smooth", "type": "quantitative", "scale": {"domain": [65.1, 69.1], "range": [190.3, 0], "clamp": true, "nice": false, "zero": false}, "axis": null}, "y2": {"datum": 65.1}}},
            {"mark": {"type": "area", "color": "#95b8dc", "opacity": 0.85, "interpolate": "monotone"}, "encoding": {"y": {"field": "smooth", "type": "quantitative", "scale": {"domain": [62.1, 65.1], "range": [333, 190.3], "clamp": true, "nice": false, "zero": false}, "axis": null}, "y2": {"datum": 65.1}}},
            {"mark": {"type": "line", "color": "#cfcfcf", "strokeWidth": 1.5}, "encoding": {"y": {"field": "temp", "type": "quantitative", "scale": {"domain": [62.1, 69.1], "nice": false, "zero": false}, "axis": {"title": "Temperature (°F)", "format": ".1f", "grid": true, "values": [62.1,63.1,64.1,65.1,66.1,67.1,68.1,69.1]}}}},
            {"mark": {"type": "line", "color": "#a11f24", "strokeWidth": 2, "interpolate": "monotone"}, "encoding": {"y": {"field": "smooth", "type": "quantitative", "scale": {"domain": [65.1, 69.1], "range": [190.3, 0], "clamp": true, "nice": false, "zero": false}, "axis": null}}},
            {"mark": {"type": "line", "color": "#1f4a88", "strokeWidth": 2, "interpolate": "monotone"}, "encoding": {"y": {"field": "smooth", "type": "quantitative", "scale": {"domain": [62.1, 65.1], "range": [333, 190.3], "clamp": true, "nice": false, "zero": false}, "axis": null}}},
            {"mark": {"type": "point", "shape": "square", "filled": true, "size": 17, "color": "#8aae3e", "opacity": 1}, "encoding": {"y": {"field": "temp", "type": "quantitative", "scale": {"domain": [62.1, 69.1], "nice": false, "zero": false}, "axis": null}}}
          ],
          "resolve": {"scale": {"y": "independent"}}
        },
        {
          "width": 540, "height": 333,
          "title": {"text": "Climate Trends - State: FL, Climate Division: 05, Season: Annual"},
          "data": {"name": "fl5"},
          "encoding": {"x": {"field": "year", "type": "quantitative", "scale": {"domain": [1894.1, 2013.2], "nice": false, "zero": false}, "axis": {"title": "Year", "format": "d", "values": [1895,1900,1905,1910,1915,1920,1925,1930,1935,1940,1945,1950,1955,1960,1965,1970,1975,1980,1985,1990,1995,2000,2005,2010]}}},
          "layer": [
            {"data": {"name": "bands"}, "mark": {"type": "rect", "color": "#c9d1d1", "opacity": 0.3, "clip": true}, "encoding": {"x2": {"field": "end"}}},
            {"mark": {"type": "area", "color": "#e89595", "opacity": 0.85, "interpolate": "monotone"}, "encoding": {"y": {"field": "smooth", "type": "quantitative", "scale": {"domain": [73.8, 76.8], "range": [166.5, 0], "clamp": true, "nice": false, "zero": false}, "axis": null}, "y2": {"datum": 73.8}}},
            {"mark": {"type": "area", "color": "#95b8dc", "opacity": 0.85, "interpolate": "monotone"}, "encoding": {"y": {"field": "smooth", "type": "quantitative", "scale": {"domain": [70.8, 73.8], "range": [333, 166.5], "clamp": true, "nice": false, "zero": false}, "axis": null}, "y2": {"datum": 73.8}}},
            {"mark": {"type": "line", "color": "#cfcfcf", "strokeWidth": 1.5}, "encoding": {"y": {"field": "temp", "type": "quantitative", "scale": {"domain": [70.8, 76.8], "nice": false, "zero": false}, "axis": {"title": "Temperature (°F)", "format": ".1f", "grid": true, "values": [70.8,71.8,72.8,73.8,74.8,75.8,76.8]}}}},
            {"mark": {"type": "line", "color": "#a11f24", "strokeWidth": 2, "interpolate": "monotone"}, "encoding": {"y": {"field": "smooth", "type": "quantitative", "scale": {"domain": [73.8, 76.8], "range": [166.5, 0], "clamp": true, "nice": false, "zero": false}, "axis": null}}},
            {"mark": {"type": "line", "color": "#1f4a88", "strokeWidth": 2, "interpolate": "monotone"}, "encoding": {"y": {"field": "smooth", "type": "quantitative", "scale": {"domain": [70.8, 73.8], "range": [333, 166.5], "clamp": true, "nice": false, "zero": false}, "axis": null}}},
            {"mark": {"type": "point", "shape": "square", "filled": true, "size": 17, "color": "#8aae3e", "opacity": 1}, "encoding": {"y": {"field": "temp", "type": "quantitative", "scale": {"domain": [70.8, 76.8], "nice": false, "zero": false}, "axis": null}}}
          ],
          "resolve": {"scale": {"y": "independent"}}
        }
      ]
    }
  ]
}
